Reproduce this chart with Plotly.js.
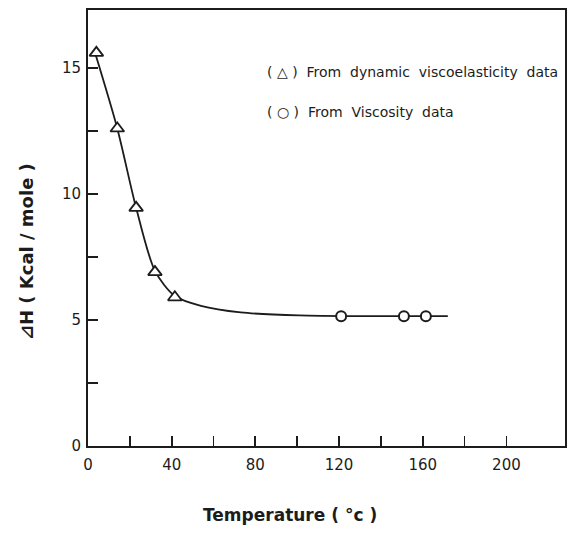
<!DOCTYPE html>
<html>
<head>
<meta charset="utf-8">
<script src="https://cdn.plot.ly/plotly-3.0.1.min.js"></script>
<style>html,body{margin:0;padding:0;background:#fff;}#chart{width:571px;height:533px;}</style>
</head>
<body>
<div id="chart"></div>
<script>
// Data
const triTemp = [4, 14, 23, 32, 41.5];          // dynamic viscoelasticity data (°C)
const triDH   = [15.6, 12.6, 9.45, 6.9, 5.9];   // ΔH (kcal/mole)
const cirTemp = [121, 151, 161.5];              // viscosity data (°C)
const cirDH   = [5.15, 5.15, 5.15];
const curveTemp = [3, 14, 23, 32, 41.5, 54, 73, 101, 130, 172];
const curveDH   = [15.7, 12.6, 9.45, 6.95, 5.95, 5.56, 5.3, 5.18, 5.15, 5.15];
const xTickVals = [0, 20, 40, 60, 80, 100, 120, 140, 160, 180, 200];
const xTickText = ['0', '', '40', '', '80', '', '120', '', '160', '', '200'];
const yTickVals = [0, 2.5, 5, 7.5, 10, 12.5, 15];
const yTickText = ['0', '', '5', '', '10', '', '15'];
const legendLines = ['( \u25B3 )  From  dynamic  viscoelasticity  data', '( \u25CB )  From  Viscosity  data'];
const xTitle = 'Temperature ( \u00B0c )';
const yTitle = '\u22BFH ( Kcal / mole )';

const ink = '#1c1c1c';
const traces = [
  {x: curveTemp, y: curveDH, mode: 'lines', line: {color: ink, width: 1.8, shape: 'spline', smoothing: 0.8}, hoverinfo: 'skip', showlegend: false},
  {x: triTemp, y: triDH, mode: 'markers', name: 'From dynamic viscoelasticity data',
   marker: {symbol: 'triangle-up', size: 12, color: '#fff', line: {color: ink, width: 1.8}}, showlegend: false},
  {x: cirTemp, y: cirDH, mode: 'markers', name: 'From Viscosity data',
   marker: {symbol: 'circle', size: 10, color: '#fff', line: {color: ink, width: 2}}, showlegend: false}
];

const fontTick = {family: 'DejaVu Sans', size: 15, color: ink};
const layout = {
  width: 571, height: 533,
  margin: {l: 88, r: 6, t: 10, b: 87},
  paper_bgcolor: '#fff', plot_bgcolor: '#fff',
  showlegend: false,
  xaxis: {range: [0, 228], tickmode: 'array', tickvals: xTickVals, ticktext: xTickText,
          ticks: 'inside', ticklen: 10, tickwidth: 1.8, tickcolor: ink, ticklabelstandoff: 4,
          showline: true, linecolor: ink, linewidth: 2, mirror: true,
          showgrid: false, zeroline: false, tickfont: fontTick},
  yaxis: {range: [0, 17.3], tickmode: 'array', tickvals: yTickVals, ticktext: yTickText,
          ticks: 'inside', ticklen: 10, tickwidth: 1.8, tickcolor: ink, ticklabelstandoff: 2,
          showline: true, linecolor: ink, linewidth: 2, mirror: true,
          showgrid: false, zeroline: false, tickfont: fontTick},
  annotations: [
    {xref: 'paper', yref: 'paper', x: 0.371, y: 0.858, xanchor: 'left', yanchor: 'middle', showarrow: false,
     text: legendLines[0], font: {family: 'DejaVu Sans', size: 14, color: ink}},
    {xref: 'paper', yref: 'paper', x: 0.371, y: 0.767, xanchor: 'left', yanchor: 'middle', showarrow: false,
     text: legendLines[1], font: {family: 'DejaVu Sans', size: 14, color: ink}},
    {xref: 'paper', yref: 'paper', x: 0.424, y: -0.158, xanchor: 'center', yanchor: 'middle', showarrow: false,
     text: xTitle, font: {family: 'DejaVu Sans', size: 17, color: ink, weight: 700}},
    {xref: 'paper', yref: 'paper', x: -0.13, y: 0.447, xanchor: 'center', yanchor: 'middle', showarrow: false, textangle: -90,
     text: yTitle, font: {family: 'DejaVu Sans', size: 18, color: ink, weight: 700}}
  ]
};
Plotly.newPlot('chart', traces, layout, {displayModeBar: false, staticPlot: true});
</script>
</body>
</html>
